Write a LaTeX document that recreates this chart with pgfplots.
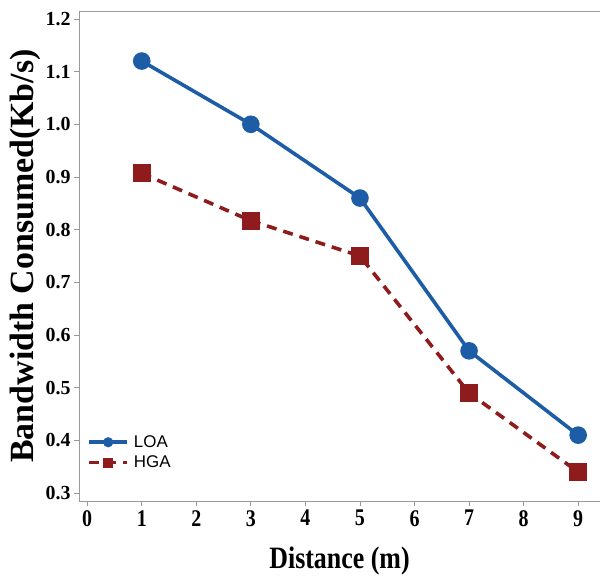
\documentclass[border=0pt]{standalone}
\usepackage{pgfplots}
\pgfplotsset{compat=1.18}
\usepackage{fontspec}
\setmainfont{Liberation Serif}
\newfontfamily\legfont{Liberation Sans}
\definecolor{loa}{HTML}{1C5DA5}
\definecolor{hga}{HTML}{8E1C1C}
\definecolor{axgray}{HTML}{9A9A9A}

\begin{document}
\begin{tikzpicture}
\begin{axis}[
  name=ax,
  scale only axis,
  width=521bp, height=490bp,
  xmin=-0.15, xmax=9.4,
  ymin=0.285, ymax=1.215,
  xtick={0,1,...,9},
  ytick={0.3,0.4,...,1.2},
  yticklabel style={/pgf/number format/.cd, fixed, fixed zerofill, precision=1},
  /pgf/number format/assume math mode=true,
  axis x line*=bottom, axis y line*=left,
  axis line style={axgray, line width=0.8pt, -},
  tick style={axgray, line width=0.8pt},
  tick align=outside,
  major tick length=5bp,
  ticklabel style={font=\bfseries\fontsize{20}{20}\selectfont},
  xticklabel style={yscale=1.2},
  xlabel={Distance (m)},
  ylabel={Bandwidth Consumed(Kb/s)},
  xlabel style={font=\bfseries\fontsize{26}{26}\selectfont, yscale=1.2, yshift=-10bp},
  ylabel style={font=\bfseries\fontsize{34}{34}\selectfont, yshift=-2bp},
  legend style={at={(0.01,0.142)}, anchor=north west, draw=none, fill=none,
    font=\legfont\fontsize{17}{19}\selectfont, row sep=3bp,
    nodes={inner xsep=5bp}},
  legend cell align=left,
  legend image code/.code={
    \draw[#1, mark repeat=2, mark phase=2] plot coordinates {(0cm,0cm) (0.67cm,0cm) (1.34cm,0cm)};
  },
  legend image post style={mark options={solid, scale=1.6}},
  clip=false,
]
\draw[axgray, line width=0.8pt] (rel axis cs:0,1) -- (rel axis cs:1,1);
\addplot[loa, line width=3.6bp, mark=*, mark options={solid, scale=3.5}] coordinates {
  (1,1.12) (3,1.0) (5,0.86) (7,0.57) (9,0.41)
};
\addplot[hga, line width=3.6bp, dash pattern=on 10bp off 7bp, mark=square*, mark options={solid, scale=3.6}] coordinates {
  (1,0.907) (3,0.817) (5,0.75) (7,0.49) (9,0.34)
};
\legend{LOA, HGA}
\end{axis}
\pgfresetboundingbox
\path (ax.south west) ++(-79bp,-75bp) coordinate (a);
\path (ax.north east) ++(0,11bp) coordinate (b);
\path (a) rectangle (b);
\end{tikzpicture}
\end{document}
